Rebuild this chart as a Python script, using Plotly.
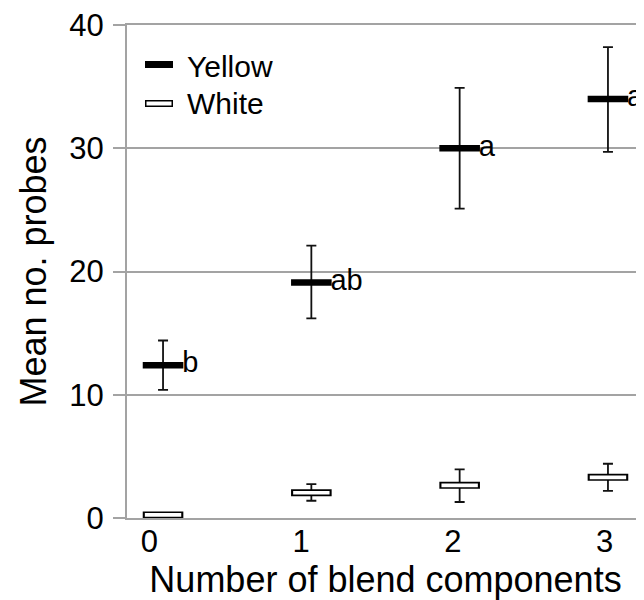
import plotly.graph_objects as go

# ---- data ----
components = [0, 1, 2, 3]
tick_labels = ["0", "1", "2", "3"]

yellow_mean = [12.4, 19.1, 30.0, 34.0]
yellow_upper = [14.4, 22.1, 34.9, 38.2]
yellow_lower = [10.4, 16.2, 25.1, 29.7]
yellow_letters = ["b", "ab", "a", "a"]

white_mean = [0.25, 2.05, 2.65, 3.3]
white_upper = [0.25, 2.75, 3.95, 4.4]
white_lower = [0.25, 1.4, 1.3, 2.2]

series_names = ["Yellow", "White"]
y_ticks = [0, 10, 20, 30, 40]

FONT = "Liberation Sans, Arial, sans-serif"
GRID = "#a3a3a3"

y_plus = [u - m for u, m in zip(yellow_upper, yellow_mean)]
y_minus = [m - l for m, l in zip(yellow_mean, yellow_lower)]
w_plus = [u - m for u, m in zip(white_upper, white_mean)]
w_minus = [m - l for m, l in zip(white_mean, white_lower)]

fig = go.Figure()

# White: black outline bar with error bars, then white interior on top
fig.add_trace(go.Scatter(
    x=components, y=white_mean, mode="markers", name=series_names[1],
    showlegend=False,
    marker=dict(symbol="line-ew", size=29, color="black",
                line=dict(color="black", width=7)),
    error_y=dict(type="data", symmetric=False, array=w_plus, arrayminus=w_minus,
                 color="#111111", thickness=1.8, width=5),
))
fig.add_trace(go.Scatter(
    x=components, y=white_mean, mode="markers", name=series_names[1] + " fill",
    showlegend=False, hoverinfo="skip",
    marker=dict(symbol="line-ew", size=26, color="white",
                line=dict(color="white", width=3.6)),
))

# Yellow: solid black bar with error bars and significance letters
fig.add_trace(go.Scatter(
    x=components, y=yellow_mean, mode="markers+text", name=series_names[0],
    showlegend=False,
    text=yellow_letters, textposition="middle right",
    textfont=dict(family=FONT, size=29, color="black"),
    cliponaxis=False,
    marker=dict(symbol="line-ew", size=29, color="black",
                line=dict(color="black", width=6.5)),
    error_y=dict(type="data", symmetric=False, array=y_plus, arrayminus=y_minus,
                 color="#111111", thickness=1.8, width=5),
))

# Category tick labels live on an overlaid axis (labels sit slightly left of the marks)
fig.add_trace(go.Scatter(
    x=components, y=[None] * len(components), xaxis="x2", yaxis="y",
    mode="markers", showlegend=False, hoverinfo="skip",
))

# Legend: key boxes (annotation boxes) and labels
fig.add_annotation(x=0.0619, y=0.920, xref="paper", yref="paper", text=" ",
                   showarrow=False, xanchor="center", yanchor="middle",
                   width=28, height=7, bgcolor="black", borderwidth=0, borderpad=0,
                   font=dict(size=1))
fig.add_annotation(x=0.0619, y=0.8408, xref="paper", yref="paper", text=" ",
                   showarrow=False, xanchor="center", yanchor="middle",
                   width=25, height=4, bgcolor="white", bordercolor="black",
                   borderwidth=1.5, borderpad=0, font=dict(size=1))
for yp, label in [(0.9164, series_names[0]), (0.8398, series_names[1])]:
    fig.add_annotation(x=0.1122, y=yp, xref="paper", yref="paper", text=label,
                       showarrow=False, xanchor="left", yanchor="middle",
                       font=dict(family=FONT, size=30, color="black"))

fig.update_layout(
    width=636, height=592,
    margin=dict(l=119, r=0, t=17, b=82),
    plot_bgcolor="white", paper_bgcolor="white",
    font=dict(family=FONT, color="black"),
    showlegend=False,
    xaxis=dict(
        range=[-0.243, 3.243], tickmode="array", tickvals=components,
        showticklabels=False,
        showgrid=False, zeroline=False, showline=True, mirror=True,
        linecolor=GRID, linewidth=2, ticks="",
        title=dict(text="Number of blend components", standoff=48,
                   font=dict(family=FONT, size=36, color="black")),
    ),
    xaxis2=dict(
        overlaying="x", anchor="y", side="bottom",
        range=[-0.148, 3.260], tickmode="array", tickvals=components,
        ticktext=tick_labels, showgrid=False, zeroline=False, showline=False,
        ticks="", tickfont=dict(family=FONT, size=31, color="black"),
        ticklabelstandoff=2,
    ),
    yaxis=dict(
        range=[0, 40], tickmode="array", tickvals=y_ticks,
        showgrid=True, gridcolor=GRID, gridwidth=2, zeroline=False,
        showline=True, linecolor=GRID, linewidth=2,
        ticks="outside", ticklen=12, tickcolor=GRID, tickwidth=2,
        tickfont=dict(family=FONT, size=31, color="black"),
        ticklabelstandoff=3, ticklabeloverflow="allow",
        title=dict(text="Mean no. probes", standoff=12,
                   font=dict(family=FONT, size=36, color="black")),
    ),
)

fig.write_html("out.html")
